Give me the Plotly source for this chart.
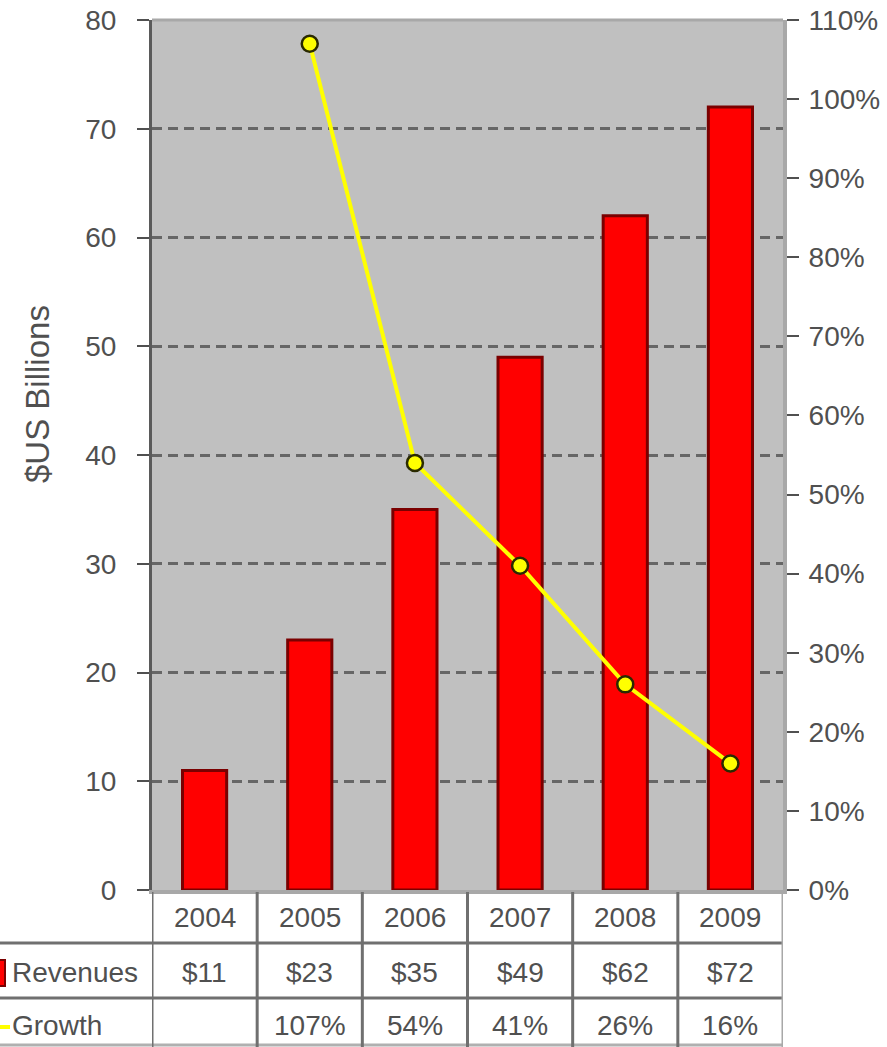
import plotly.graph_objects as go

years = ["2004", "2005", "2006", "2007", "2008", "2009"]
revenues = [11, 23, 35, 49, 62, 72]
revenue_labels = ["$11", "$23", "$35", "$49", "$62", "$72"]
growth = [None, 107, 54, 41, 26, 16]
growth_labels = ["", "107%", "54%", "41%", "26%", "16%"]
left_ticks = [0, 10, 20, 30, 40, 50, 60, 70, 80]
right_ticks = [0, 10, 20, 30, 40, 50, 60, 70, 80, 90, 100, 110]

W, H = 887, 1047
L, R, T, B = 152, 783, 20, 890
PW, PH = R - L, B - T


def py(pix):
    return (B - pix) / PH


def px(pix):
    return (pix - L) / PW


FONT = "Liberation Sans, Arial, sans-serif"
TXT = "#505050"
FS = 28

xs = list(range(len(years)))

fig = go.Figure()
fig.add_trace(go.Bar(
    x=xs, y=revenues, width=0.42, name="Revenues",
    marker=dict(color="#ff0000", line=dict(color="#7a0000", width=3)),
    yaxis="y", showlegend=False,
))
fig.add_trace(go.Scatter(
    x=xs, y=growth, name="Growth", mode="lines+markers",
    line=dict(color="#ffff00", width=4),
    marker=dict(color="#ffff00", size=16, line=dict(color="#2a2a00", width=2.5)),
    yaxis="y2", showlegend=False, connectgaps=False,
))

tfont = dict(family=FONT, size=FS, color=TXT)
annotations = []
for i, (yr, rv, gr) in enumerate(zip(years, revenue_labels, growth_labels)):
    annotations.append(dict(x=i, y=py(917), xref="x", yref="paper", text=yr,
                            xanchor="center", yanchor="middle", showarrow=False, font=tfont))
    annotations.append(dict(x=i, y=py(972), xref="x", yref="paper", text=rv,
                            xanchor="center", yanchor="middle", showarrow=False, font=tfont))
    if gr:
        annotations.append(dict(x=i, y=py(1025), xref="x", yref="paper", text=gr,
                                xanchor="center", yanchor="middle", showarrow=False, font=tfont))
annotations.append(dict(x=px(10), y=py(972), xref="paper", yref="paper", text="Revenues",
                        xanchor="left", yanchor="middle", showarrow=False, font=tfont))
annotations.append(dict(x=px(10), y=py(1025), xref="paper", yref="paper", text="Growth",
                        xanchor="left", yanchor="middle", showarrow=False, font=tfont))
annotations.append(dict(x=px(37), y=py(394), xref="paper", yref="paper", text="$US Billions",
                        textangle=-90, xanchor="center", yanchor="middle", showarrow=False,
                        font=dict(family=FONT, size=33, color=TXT)))

shapes = []
# top border
shapes.append(dict(type="line", xref="paper", yref="paper", x0=0, x1=1, y0=1, y1=1,
                   line=dict(color="#a8a8a8", width=3)))
# table horizontal lines
for yy, col in [(943, "#707070"), (998, "#707070"), (1045, "#b0b0b0")]:
    shapes.append(dict(type="line", xref="paper", yref="paper", x0=px(0), x1=1,
                       y0=py(yy), y1=py(yy), line=dict(color=col, width=3)))
# table vertical lines
for k in range(len(years) + 1):
    col = "#a8a8a8" if k == len(years) else "#707070"
    shapes.append(dict(type="line", xref="x", yref="paper", x0=k - 0.5, x1=k - 0.5,
                       y0=py(892), y1=py(1047), line=dict(color=col, width=3)))
# legend keys
shapes.append(dict(type="rect", xref="paper", yref="paper", x0=px(-6), x1=px(5),
                   y0=py(986), y1=py(960), fillcolor="#ff0000", line=dict(color="#7a0000", width=2)))
shapes.append(dict(type="line", xref="paper", yref="paper", x0=px(0), x1=px(10),
                   y0=py(1027), y1=py(1027), line=dict(color="#ffff00", width=4)))

fig.update_layout(
    width=W, height=H,
    margin=dict(l=L, r=W - R, t=T, b=H - B, pad=0, autoexpand=False),
    paper_bgcolor="white", plot_bgcolor="#c0c0c0",
    font=dict(family=FONT, size=FS, color=TXT),
    xaxis=dict(range=[-0.5, 5.5], showticklabels=False, ticks="", showgrid=False,
               zeroline=False, showline=True, linecolor="#a8a8a8", linewidth=4, fixedrange=True),
    yaxis=dict(range=[0, 80], tickvals=left_ticks, ticks="outside", ticklen=12,
               tickcolor="#505050", tickwidth=2, showline=True, linecolor="#5a5a5a", linewidth=3,
               showgrid=True, gridcolor="#666666", gridwidth=3, griddash="10px,6px",
               zeroline=False, ticklabelstandoff=15),
    yaxis2=dict(range=[0, 110], tickvals=right_ticks, ticktext=[f"{v}%" for v in right_ticks],
                overlaying="y", side="right", ticks="outside", ticklen=12, tickcolor="#505050",
                tickwidth=2, showline=True, linecolor="#a8a8a8", linewidth=4, showgrid=False,
                zeroline=False, ticklabelstandoff=4),
    annotations=annotations, shapes=shapes,
)

fig.write_html("out.html", post_script="document.body.style.margin='0px';document.body.style.overflow='hidden';")
